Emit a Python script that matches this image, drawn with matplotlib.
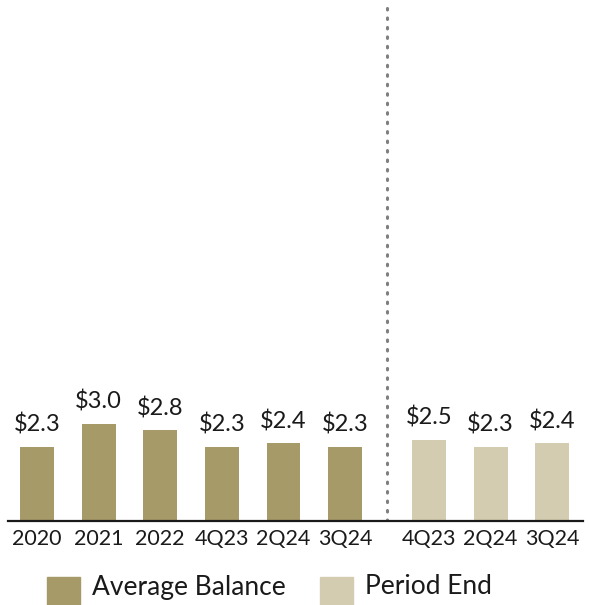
import matplotlib
matplotlib.use("Agg")
import matplotlib.pyplot as plt
from matplotlib.patches import Rectangle

plt.rcParams['font.family'] = ['Lato', 'DejaVu Sans']

# Average balance series (annual + recent quarters)
avg_labels = ["2020", "2021", "2022", "4Q23", "2Q24", "3Q24"]
avg_values = [2.3, 3.0, 2.8, 2.3, 2.4, 2.3]

# Period-end series
end_labels = ["4Q23", "2Q24", "3Q24"]
end_values = [2.5, 2.3, 2.4]

legend_names = ["Average Balance", "Period End"]

dark = "#a69a68"
light = "#d3ccb0"

fig = plt.figure(figsize=(5.89, 6.05), dpi=100)
ax = fig.add_axes([8 / 589, (605 - 521) / 605, (583 - 8) / 589, 521 / 605])

avg_x = list(range(len(avg_values)))
gap = 1.36
end_x = [avg_x[-1] + gap + i for i in range(len(end_values))]
width = 0.55

ax.bar(avg_x, avg_values, width=width, color=dark, edgecolor="none", zorder=2)
ax.bar(end_x, end_values, width=width, color=light, edgecolor="none", zorder=2)

for x, v in zip(avg_x + end_x, avg_values + end_values):
    ax.annotate(f"${v:.1f}", (x, v), xytext=(0, 8), textcoords="offset points",
                ha="center", va="bottom", fontsize=17, color="#1a1a1a")

sep_x = avg_x[-1] + 0.68
ax.plot([sep_x, sep_x], [0, 15.95], color="#7f7f7f", lw=2.2,
        linestyle=(0, (0.5, 2.6)), dash_capstyle="round", zorder=1)

ax.set_xlim(-0.47, end_x[-1] + 0.5)
ax.set_ylim(0, 16.1)
ax.set_xticks(avg_x + end_x)
ax.set_xticklabels(avg_labels + end_labels, fontsize=15.5, color="#1a1a1a")
ax.tick_params(axis="x", length=0, pad=6)
ax.set_yticks([])
for side in ["left", "right", "top"]:
    ax.spines[side].set_visible(False)
ax.spines["bottom"].set_color("#1a1a1a")
ax.spines["bottom"].set_linewidth(1.6)

# Legend drawn in figure pixels
W, H = 589, 605
for px, name, col in [(47, legend_names[0], dark), (320, legend_names[1], light)]:
    fig.add_artist(Rectangle((px / W, -6 / H), 33 / W, 34 / H,
                             transform=fig.transFigure, color=col, clip_on=False))
    fig.text((px + 45) / W, (H - 587) / H, name, fontsize=19,
             color="#1a1a1a", ha="left", va="center")

fig.savefig("out.png", dpi=100)
